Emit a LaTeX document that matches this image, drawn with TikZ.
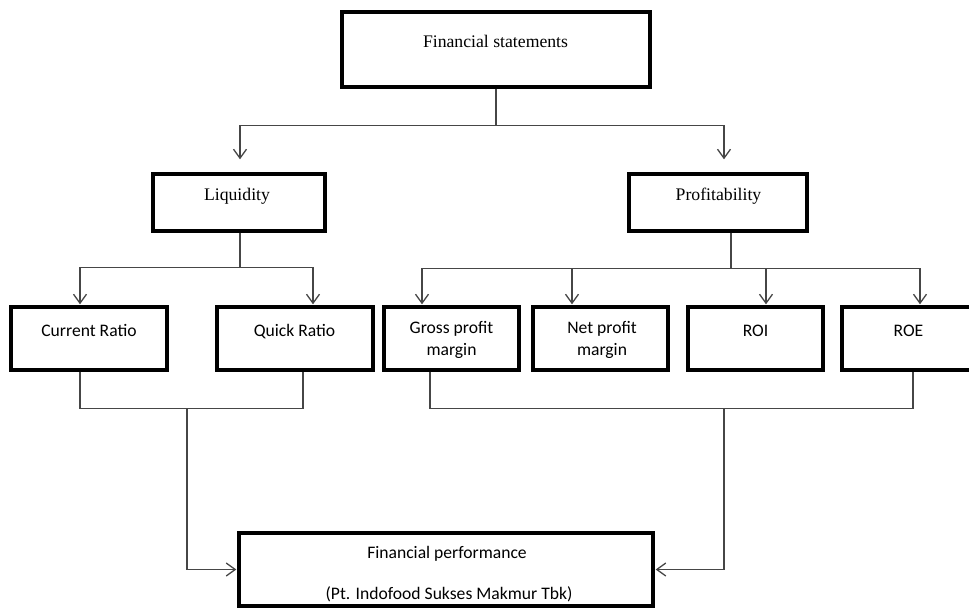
\documentclass[tikz,border=0pt]{standalone}
\usepackage{fontspec}
\setmainfont{Liberation Serif}
\newfontfamily\calib{Carlito}
\usetikzlibrary{arrows.meta,calc}
\definecolor{lnc}{RGB}{70,70,70}
\begin{document}
\begin{tikzpicture}[x=1pt,y=-1pt,
  bx/.style={draw=black, line width=3.4pt, inner sep=0pt},
  conn/.style={draw=lnc, line width=1.3pt},
  arr/.style={conn, -{Straight Barb[length=9pt,width=13pt]}, shorten >=1pt},
  tm/.style={font=\fontsize{17.7}{21}\selectfont, anchor=base, inner sep=0pt},
  cb/.style={font=\calib\fontsize{17.6}{22.5}\selectfont, anchor=base, inner sep=0pt, align=center}]
\useasboundingbox (0,0) rectangle (969,608);
% boxes
\node[bx, minimum width=308pt, minimum height=75pt] (fs) at (496,49.5) {};
\node[bx, minimum width=172pt, minimum height=57pt] (liq) at (239,202.5) {};
\node[bx, minimum width=178pt, minimum height=57pt] (prof) at (718,202.5) {};
\node[bx, minimum width=156pt, minimum height=63pt] (cr) at (89,338.5) {};
\node[bx, minimum width=156pt, minimum height=63pt] (qr) at (295,338.5) {};
\node[bx, minimum width=135pt, minimum height=63pt] (gpm) at (451.5,338.5) {};
\node[bx, minimum width=135pt, minimum height=63pt] (npm) at (600.5,338.5) {};
\node[bx, minimum width=135pt, minimum height=63pt] (roi) at (755.5,338.5) {};
\node[bx, minimum width=135pt, minimum height=63pt] (roe) at (909.5,338.5) {};
\node[bx, minimum width=414pt, minimum height=73pt] (fp) at (446,569.5) {};
% texts
\node[tm] (fst) at (495.5,47) {Financial statements};
\node[tm] (liqt) at (237,200) {Liquidity};
\node[tm] (proft) at (718.5,200) {Profitability};
\node[cb] (crt) at (89,336) {Current Ratio};
\node[cb] (qrt) at (294.5,336) {Quick Ratio};
\node[cb] (gpmt) at (451.5,355.5) {Gross profit\\margin};
\node[cb] (npmt) at (602,355.5) {Net profit\\margin};
\node[cb] (roit) at (755.5,336) {ROI};
\node[cb] (roet) at (908.5,336) {ROE};
\node[cb] (fpt) at (447,558) {Financial performance};
\node[cb] (fpt2) at (449,599) {(Pt. Indofood Sukses Makmur Tbk)};
% connectors top
\coordinate (j0) at ($(fs.south)+(0,37)$);
\draw[conn] (fs.south) -- (j0);
\draw[arr] (j0) -| ($(liq.north)+(1,-12)$);
\draw[arr] (j0) -| ($(prof.north)+(6,-12)$);
% liquidity branch
\coordinate (j1) at ($(liq.south)+(1,35)$);
\draw[conn] ($(liq.south)+(1,0)$) -- (j1);
\draw[arr] (j1) -| ($(cr.north)+(-9,0)$);
\draw[arr] (j1) -| ($(qr.north)+(18,0)$);
% profitability branch
\coordinate (j2) at ($(prof.south)+(13,36)$);
\draw[conn] ($(prof.south)+(13,0)$) -- (j2);
\draw[arr] (j2) -| ($(gpm.north)+(-29.5,0)$);
\draw[arr] (j2) -| ($(npm.north)+(-28.5,0)$);
\draw[arr] (j2) -| ($(roi.north)+(10.5,0)$);
\draw[arr] (j2) -| ($(roe.north)+(10.5,0)$);
% bottom left
\draw[conn] ($(cr.south)+(-9,0)$) |- ($(qr.south)+(8,37)$) -- ($(qr.south)+(8,0)$);
\coordinate (b1) at ($(cr.south)+(98,37)$);
\draw[arr] (b1) |- (fp.west);
% bottom right
\draw[conn] ($(gpm.south)+(-21.5,0)$) |- ($(roe.south)+(3.5,37)$) -- ($(roe.south)+(3.5,0)$);
\coordinate (b2) at ($(roi.south)+(-31.5,37)$);
\draw[arr] (b2) |- (fp.east);
\end{tikzpicture}
\end{document}
